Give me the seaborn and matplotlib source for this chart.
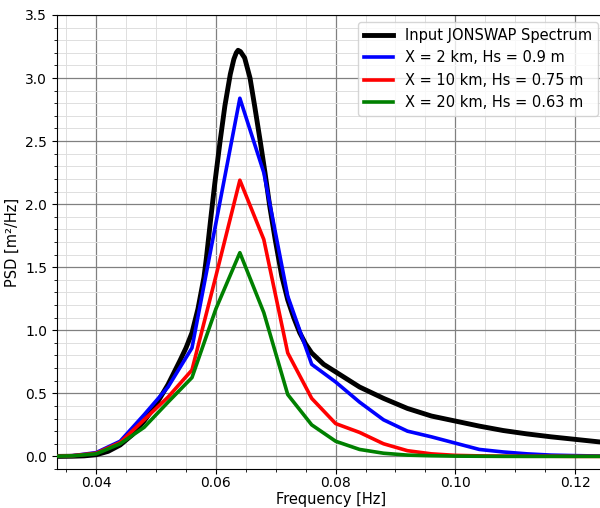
import numpy as np
import pandas as pd
import matplotlib
matplotlib.use("Agg")
import matplotlib.pyplot as plt
import seaborn as sns
from matplotlib.ticker import MultipleLocator

# Input JONSWAP spectrum
f_jonswap = [0.032, 0.034, 0.036, 0.038, 0.040, 0.042, 0.044, 0.046, 0.048, 0.050,
             0.052, 0.054, 0.055, 0.056, 0.057, 0.058, 0.0584, 0.0591, 0.0598, 0.0607,
             0.0615, 0.0624, 0.0630, 0.0634, 0.0637, 0.0641, 0.0648, 0.0657, 0.0665, 0.0674,
             0.0682, 0.0690, 0.0699, 0.0710, 0.0720, 0.0730, 0.0740, 0.0750, 0.0760, 0.0780,
             0.080, 0.084, 0.088, 0.092, 0.096, 0.100, 0.104, 0.108, 0.112, 0.116,
             0.120, 0.124, 0.128]
s_jonswap = [0.0, 0.0, 0.001, 0.004, 0.013, 0.04, 0.09, 0.17, 0.28, 0.41,
             0.57, 0.76, 0.86, 0.98, 1.17, 1.42, 1.57, 1.87, 2.16, 2.50,
             2.78, 3.03, 3.15, 3.20, 3.22, 3.21, 3.16, 3.00, 2.77, 2.50,
             2.25, 1.98, 1.72, 1.43, 1.24, 1.10, 0.98, 0.89, 0.82, 0.73,
             0.67, 0.55, 0.46, 0.38, 0.32, 0.28, 0.24, 0.205, 0.178, 0.155,
             0.135, 0.115, 0.10]

# Modelled spectra at fetch distances
f_model = [0.032, 0.036, 0.040, 0.044, 0.048, 0.052, 0.056, 0.060, 0.064, 0.068,
           0.072, 0.076, 0.080, 0.084, 0.088, 0.092, 0.096, 0.100, 0.104, 0.108,
           0.112, 0.116, 0.120, 0.124, 0.128]
s_2km = [0.0, 0.005, 0.03, 0.12, 0.33, 0.55, 0.86, 1.85, 2.84, 2.25,
         1.27, 0.73, 0.59, 0.43, 0.29, 0.20, 0.155, 0.105, 0.055, 0.035,
         0.02, 0.01, 0.006, 0.003, 0.002]
s_10km = [0.0, 0.005, 0.025, 0.11, 0.29, 0.47, 0.685, 1.43, 2.19, 1.72,
          0.82, 0.46, 0.26, 0.19, 0.10, 0.045, 0.02, 0.008, 0.004, 0.002,
          0.001, 0.001, 0.0, 0.0, 0.0]
s_20km = [0.0, 0.004, 0.02, 0.10, 0.23, 0.43, 0.625, 1.17, 1.615, 1.14,
          0.49, 0.25, 0.12, 0.055, 0.025, 0.01, 0.005, 0.002, 0.001, 0.0,
          0.0, 0.0, 0.0, 0.0, 0.0]

labels = ["Input JONSWAP Spectrum", "X = 2 km, Hs = 0.9 m",
          "X = 10 km, Hs = 0.75 m", "X = 20 km, Hs = 0.63 m"]
colors = ["black", "blue", "red", "green"]

df_in = pd.DataFrame({"f": f_jonswap, "S": s_jonswap, "series": labels[0]})
df_mod = pd.concat([
    pd.DataFrame({"f": f_model, "S": s, "series": lab})
    for s, lab in zip([s_2km, s_10km, s_20km], labels[1:])
])

fig = plt.figure(figsize=(6.0, 5.08), dpi=100)
ax = fig.add_axes([0.0945, 0.0768, 0.9138, 0.8937])

sns.lineplot(data=df_in, x="f", y="S", color=colors[0], lw=3.5,
             ax=ax, estimator=None, label=labels[0], zorder=3)
for lab, col in zip(labels[1:], colors[1:]):
    sns.lineplot(data=df_mod[df_mod["series"] == lab], x="f", y="S", color=col,
                 lw=2.6, ax=ax, estimator=None, label=lab, zorder=3)

ax.set_xlim(0.0334, 0.125)
ax.set_ylim(-0.1, 3.5)
ax.xaxis.set_major_locator(MultipleLocator(0.02))
ax.xaxis.set_minor_locator(MultipleLocator(0.005))
ax.yaxis.set_major_locator(MultipleLocator(0.5))
ax.yaxis.set_minor_locator(MultipleLocator(0.1))
ax.grid(which="major", color="#808080", lw=0.9)
ax.grid(which="minor", color="#dedede", lw=0.7)
ax.set_axisbelow(True)
ax.spines["right"].set_visible(False)
ax.tick_params(labelsize=10)
ax.tick_params(axis="x", which="major", pad=1.5)

ax.set_xlabel("Frequency [Hz]", fontsize=10.5, labelpad=1.5)
ax.set_ylabel("PSD [m²/Hz]", fontsize=10.5)
ax.legend(loc="upper right", fontsize=10.5)

fig.savefig("out.png", dpi=100)
